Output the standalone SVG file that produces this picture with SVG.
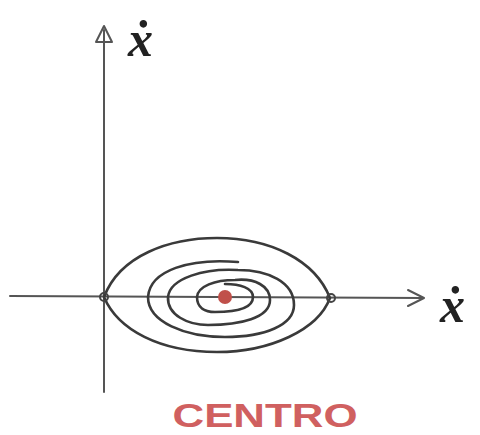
<svg xmlns="http://www.w3.org/2000/svg" width="480" height="435" viewBox="0 0 480 435">
<style>
.ln{fill:none;stroke:#555;stroke-width:2;stroke-linecap:round;stroke-linejoin:round}
.cv{fill:none;stroke:#3a3a3a;stroke-width:2.6;stroke-linecap:round;stroke-linejoin:round}
.lbl{font-family:"Liberation Serif",serif;font-style:italic;font-weight:bold;font-size:50px;fill:#222}
</style>
<rect width="480" height="435" fill="#fff"/>
<g id="axes">
<path class="ln" d="M104 392 L104 30"/>
<path class="ln" d="M96 42 L104 26 L112 42 Z" fill="#777"/>
<path class="ln" d="M10 296 L423 298"/>
<path class="ln" d="M408 290 L424 298 L408 306"/>
</g>
<g id="curves">
<path class="cv" d="M104 297 C120 255 170 238 217 238 C270 238 315 260 330 298 C318 330 270 352 217 352 C160 352 118 330 104 297 Z"/>
<path class="cv" d="M238 262 C190 258 150 270 148 297 C148 322 185 337 225 337 C265 337 294 325 294 305 C294 282 268 270 238 270 C205 268 170 278 168 297 C167 315 188 325 208 325 C240 325 270 318 270 300 C270 286 255 278 235 280 C215 280 198 286 197 297 C197 308 205 312 215 312 C240 312 253 307 253 297 C253 288 240 284 225 284"/>
<circle cx="104" cy="297" r="4" fill="none" stroke="#444" stroke-width="2"/>
<circle cx="331" cy="298" r="4" fill="none" stroke="#444" stroke-width="2"/>
<circle cx="225" cy="297" r="7" fill="#c0504a"/>
</g>
<g id="labels">
<text class="lbl" x="128" y="56">ẋ</text>
<text class="lbl" x="440" y="322">ẋ</text>
<text x="265" y="427" text-anchor="middle" font-family="'Liberation Sans',sans-serif" font-size="34" font-weight="bold" fill="#d06060" textLength="185" lengthAdjust="spacingAndGlyphs">CENTRO</text>
</g>
</svg>
